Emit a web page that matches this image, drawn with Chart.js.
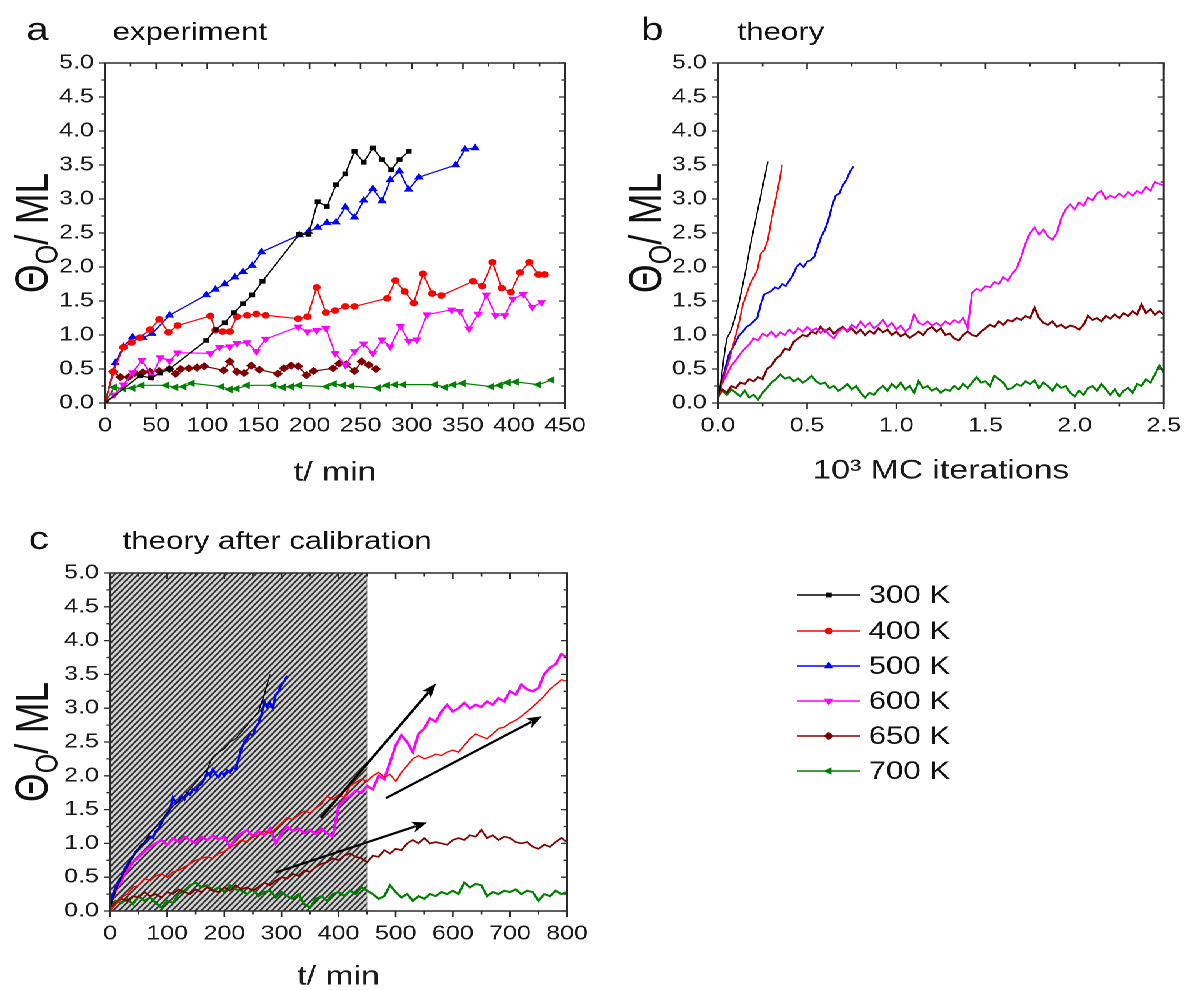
<!DOCTYPE html>
<html>
<head>
<meta charset="utf-8">
<script src="https://cdn.jsdelivr.net/npm/chart.js@4.4.1/dist/chart.umd.min.js"></script>
<style>
  html, body { margin: 0; padding: 0; background: #fff; overflow: hidden; width: 1192px; height: 990px; }
  #wrap { position: absolute; left: 0; top: 0; width: 954px; height: 1010px; transform: scaleX(1.25); transform-origin: 0 0; }
  canvas { position: absolute; }
</style>
</head>
<body>
<div id="wrap">
  <canvas id="ca" style="left:0;top:0;width:480px;height:500px"></canvas>
  <canvas id="cb" style="left:480px;top:0;width:476px;height:500px"></canvas>
  <canvas id="cc" style="left:0;top:490px;width:954px;height:520px"></canvas>
</div>
<script>
// the figure is a bit wider than tall in its lettering, so everything is drawn narrow and stretched
const S = 1.25;

const tempLabels = ['300 K', '400 K', '500 K', '600 K', '650 K', '700 K'];
const colors = ['#000000', '#ff0000', '#0000ff', '#ff00ff', '#800000', '#008000'];

// ---- panel a : experiment, [t/min, coverage ML]
const a300 = [[0,0],[34,0.40],[45,0.37],[54,0.44],[63,0.50],[99,0.92],[108,1.08],[117,1.18],[126,1.33],[135,1.46],[144,1.59],[154,1.79],[190,2.48],[199,2.48],[208,2.96],[217,2.89],[226,3.21],[235,3.37],[244,3.70],[253,3.54],[262,3.75],[271,3.58],[280,3.43],[288,3.58],[297,3.70]];
const a400 = [[0,0],[8,0.46],[18,0.82],[26,0.89],[34,0.96],[44,1.08],[53,1.23],[62,1.04],[71,1.14],[103,1.28],[108,1.07],[115,1.05],[122,1.05],[129,1.27],[139,1.29],[148,1.31],[157,1.29],[189,1.24],[198,1.27],[207,1.70],[216,1.33],[225,1.36],[235,1.42],[244,1.42],[276,1.54],[284,1.80],[293,1.64],[302,1.47],[311,1.90],[320,1.61],[329,1.58],[360,1.79],[369,1.72],[379,2.07],[388,1.69],[397,1.63],[406,1.92],[415,2.07],[424,1.89],[430,1.89]];
const a500 = [[0,0],[10,0.59],[18,0.83],[27,0.97],[37,0.96],[46,1.02],[63,1.29],[99,1.59],[108,1.67],[117,1.75],[127,1.85],[135,1.93],[144,2.02],[153,2.22],[190,2.47],[199,2.52],[208,2.58],[217,2.65],[226,2.66],[235,2.88],[244,2.73],[253,2.98],[262,3.15],[271,2.97],[279,3.28],[288,3.41],[297,3.14],[307,3.32],[343,3.50],[352,3.73],[362,3.75]];
const a600 = [[0,0],[9,0.12],[18,0.27],[27,0.45],[36,0.63],[46,0.39],[54,0.67],[63,0.62],[71,0.74],[103,0.73],[112,0.82],[122,0.83],[129,0.88],[139,0.89],[148,0.76],[157,0.94],[189,1.12],[198,1.05],[207,1.07],[216,1.10],[225,0.73],[235,0.56],[244,0.76],[253,0.87],[262,0.73],[271,0.93],[279,0.83],[289,1.13],[297,0.91],[305,0.93],[315,1.30],[339,1.37],[347,1.35],[356,1.09],[365,1.31],[373,1.59],[382,1.29],[391,1.29],[399,1.53],[409,1.60],[418,1.41],[427,1.48]];
const a650 = [[0,0],[8,0.46],[15,0.38],[23,0.38],[29,0.44],[37,0.45],[44,0.46],[53,0.47],[63,0.50],[69,0.43],[74,0.50],[82,0.51],[90,0.52],[97,0.54],[116,0.48],[122,0.61],[129,0.46],[136,0.44],[143,0.55],[151,0.49],[169,0.43],[175,0.51],[182,0.55],[189,0.54],[197,0.41],[204,0.47],[223,0.51],[229,0.58],[236,0.57],[244,0.47],[251,0.61],[258,0.56],[265,0.50]];
const a700 = [[0,0],[9,0.23],[18,0.21],[27,0.22],[36,0.26],[60,0.26],[69,0.23],[77,0.24],[85,0.29],[114,0.24],[122,0.20],[129,0.21],[139,0.26],[165,0.26],[174,0.23],[182,0.24],[190,0.26],[217,0.24],[224,0.28],[233,0.26],[241,0.25],[267,0.22],[276,0.26],[284,0.27],[292,0.27],[323,0.27],[333,0.23],[341,0.27],[350,0.29],[378,0.24],[386,0.26],[394,0.30],[402,0.31],[424,0.27],[437,0.34]];

// ---- panel b : theory, x in 10^3 MC iterations
const b300 = [[0,0.05],[0.01,0.2],[0.02,0.4],[0.03,0.6],[0.04,0.8],[0.05,0.95],[0.06,1.0],[0.07,1.05],[0.08,1.12],[0.1,1.3],[0.12,1.5],[0.14,1.75],[0.16,2.0],[0.18,2.3],[0.2,2.55],[0.22,2.8],[0.24,3.05],[0.26,3.3],[0.28,3.55]];
const b400 = [[0,0.05],[0.02,0.25],[0.04,0.45],[0.06,0.6],[0.08,0.8],[0.1,1.0],[0.12,1.2],[0.14,1.45],[0.16,1.6],[0.18,1.75],[0.2,1.85],[0.22,1.95],[0.24,2.2],[0.26,2.25],[0.28,2.4],[0.3,2.7],[0.32,2.95],[0.34,3.2],[0.36,3.5]];
const b500 = [[0,0.05],[0.02,0.3],[0.04,0.5],[0.06,0.7],[0.08,0.8],[0.1,0.9],[0.12,1.0],[0.14,1.05],[0.16,1.12],[0.18,1.15],[0.2,1.2],[0.22,1.25],[0.24,1.45],[0.26,1.6],[0.28,1.62],[0.3,1.65],[0.32,1.7],[0.34,1.68],[0.36,1.75],[0.38,1.72],[0.4,1.8],[0.42,1.88],[0.44,2.0],[0.46,2.05],[0.48,2.0],[0.5,2.08],[0.52,2.1],[0.54,2.15],[0.56,2.3],[0.58,2.45],[0.6,2.55],[0.62,2.7],[0.64,2.9],[0.66,3.05],[0.68,3.08],[0.7,3.2],[0.72,3.28],[0.74,3.4],[0.76,3.48]];
const bX = [0,0.025,0.05,0.075,0.1,0.125,0.15,0.175,0.2,0.225,0.25,0.275,0.3,0.325,0.35,0.375,0.4,0.425,0.45,0.475,0.5,0.525,0.55,0.575,0.6,0.625,0.65,0.675,0.7,0.725,0.75,0.775,0.8,0.825,0.85,0.875,0.9,0.925,0.95,0.975,1,1.025,1.05,1.075,1.1,1.125,1.15,1.175,1.2,1.225,1.25,1.275,1.3,1.325,1.35,1.375,1.4,1.425,1.45,1.475,1.5,1.525,1.55,1.575,1.6,1.625,1.65,1.675,1.7,1.725,1.75,1.775,1.8,1.825,1.85,1.875,1.9,1.925,1.95,1.975,2,2.025,2.05,2.075,2.1,2.125,2.15,2.175,2.2,2.225,2.25,2.275,2.3,2.325,2.35,2.375,2.4,2.425,2.45,2.475,2.5];
const b600 = [0.15,0.30,0.42,0.55,0.63,0.72,0.80,0.86,0.95,0.92,
  1.02,0.98,1.05,0.97,1.04,1.00,1.08,1.02,1.10,1.05,
  1.12,1.06,1.10,1.03,1.08,1.00,0.95,1.05,1.10,1.06,
  1.15,1.10,1.20,1.12,1.18,1.10,1.15,1.22,1.12,1.18,
  1.08,1.14,1.05,1.10,1.30,1.18,1.15,1.20,1.14,1.18,
  1.13,1.20,1.16,1.22,1.18,1.25,1.10,1.62,1.68,1.65,
  1.72,1.70,1.78,1.75,1.85,1.80,1.90,1.98,2.15,2.35,
  2.50,2.58,2.48,2.55,2.45,2.40,2.50,2.72,2.85,2.92,
  2.85,2.95,2.90,3.02,2.98,3.08,3.12,3.00,3.05,3.02,
  3.08,3.03,3.10,3.05,3.12,3.08,3.18,3.12,3.25,3.22,
  3.20];
const b650 = [0.15,0.20,0.15,0.25,0.22,0.30,0.28,0.35,0.32,0.38,
  0.35,0.50,0.55,0.65,0.70,0.80,0.78,0.90,0.95,1.00,
  0.98,1.05,1.02,1.12,1.05,1.10,1.02,1.08,1.12,1.05,
  1.10,1.02,1.08,1.00,1.06,1.02,1.10,1.04,1.08,1.00,
  1.05,0.98,1.02,0.96,1.00,1.05,1.00,1.08,1.12,1.05,
  1.10,1.00,1.02,0.95,0.92,1.00,1.05,1.00,0.98,1.05,
  1.10,1.15,1.12,1.20,1.15,1.22,1.20,1.25,1.22,1.28,
  1.25,1.40,1.25,1.18,1.15,1.20,1.12,1.15,1.10,1.14,
  1.12,1.08,1.15,1.28,1.22,1.25,1.20,1.28,1.24,1.30,
  1.25,1.32,1.28,1.35,1.30,1.45,1.32,1.38,1.30,1.35,
  1.30];
const b700 = [0.10,0.18,0.12,0.20,0.15,0.10,0.18,0.08,0.12,0.05,
  0.15,0.22,0.30,0.35,0.42,0.36,0.38,0.32,0.36,0.30,
  0.34,0.40,0.32,0.28,0.30,0.22,0.25,0.18,0.22,0.28,
  0.20,0.25,0.15,0.08,0.15,0.12,0.20,0.25,0.18,0.28,
  0.22,0.30,0.20,0.25,0.15,0.32,0.22,0.25,0.18,0.22,
  0.15,0.20,0.18,0.25,0.20,0.28,0.22,0.30,0.38,0.30,
  0.32,0.25,0.40,0.35,0.30,0.20,0.22,0.28,0.25,0.32,
  0.28,0.33,0.22,0.30,0.25,0.18,0.28,0.22,0.25,0.15,
  0.10,0.18,0.12,0.22,0.25,0.18,0.28,0.20,0.12,0.20,
  0.10,0.18,0.22,0.15,0.28,0.25,0.35,0.30,0.42,0.55,
  0.45];

// ---- panel c : theory after calibration, t/min
const c300 = [[0,0.05],[10,0.30],[20,0.50],[30,0.65],[40,0.80],[50,0.92],[60,1.02],[70,1.15],[80,1.25],[90,1.35],[100,1.45],[110,1.55],[120,1.62],[130,1.70],[140,1.80],[150,1.90],[160,2.00],[170,2.10],[180,2.28],[190,2.35],[200,2.40],[210,2.50],[220,2.55],[230,2.65],[240,2.75],[250,2.85],[260,2.95],[270,3.20],[280,3.50]];
const c500 = [[0,0.05],[5,0.25],[10,0.35],[15,0.45],[20,0.50],[25,0.62],[30,0.68],[35,0.75],[40,0.80],[45,0.88],[50,0.92],[55,0.98],[60,1.00],[65,1.05],[70,1.10],[75,1.08],[80,1.18],[85,1.22],[90,1.30],[95,1.38],[100,1.45],[105,1.50],[110,1.68],[115,1.60],[120,1.62],[125,1.70],[130,1.65],[135,1.75],[140,1.72],[145,1.80],[150,1.78],[155,1.85],[160,1.88],[165,1.95],[170,2.05],[175,2.00],[180,2.10],[185,2.02],[190,1.98],[195,2.05],[200,2.00],[205,2.08],[210,2.05],[215,2.12],[220,2.10],[225,2.25],[230,2.40],[235,2.50],[240,2.55],[245,2.62],[250,2.60],[255,2.72],[260,2.78],[265,2.90],[270,3.10],[275,3.02],[280,3.08],[285,3.00],[290,3.20],[295,3.25],[300,3.35],[305,3.40],[310,3.48]];
const cX = [0,10,20,30,40,50,60,70,80,90,100,110,120,130,140,150,160,170,180,190,200,210,220,230,240,250,260,270,280,290,300,310,320,330,340,350,360,370,380,390,400,410,420,430,440,450,460,470,480,490,500,510,520,530,540,550,560,570,580,590,600,610,620,630,640,650,660,670,680,690,700,710,720,730,740,750,760,770,780,790,800];
const c400 = [0.00,0.10,0.20,0.25,0.35,0.38,0.48,0.45,0.52,0.55,
  0.50,0.58,0.60,0.65,0.70,0.75,0.78,0.80,0.78,0.85,
  0.88,0.95,0.98,1.05,1.02,1.10,1.12,1.18,1.15,1.22,
  1.30,1.38,1.35,1.42,1.48,1.45,1.52,1.58,1.70,1.65,
  1.72,1.68,1.85,1.90,1.95,1.92,2.00,2.05,1.98,2.02,
  1.92,2.05,2.15,2.25,2.30,2.25,2.28,2.32,2.30,2.35,
  2.38,2.35,2.45,2.55,2.62,2.58,2.55,2.62,2.70,2.72,
  2.78,2.82,2.88,2.95,3.02,3.10,3.18,3.28,3.35,3.42,
  3.40];
const c600 = [0.10,0.30,0.45,0.60,0.72,0.80,0.88,0.95,1.00,1.05,
  0.98,1.08,1.02,1.10,1.05,1.00,1.10,1.05,1.12,1.06,
  1.10,0.95,1.08,1.15,1.20,1.10,1.18,1.12,1.22,1.00,
  1.15,1.25,1.18,1.22,1.15,1.20,1.14,1.22,1.15,1.10,
  1.55,1.65,1.70,1.78,1.75,1.85,1.80,2.00,1.95,2.20,
  2.45,2.60,2.50,2.35,2.62,2.70,2.85,2.80,2.95,3.05,
  2.95,3.00,3.08,3.00,3.05,3.02,3.10,3.05,3.15,3.10,
  3.25,3.20,3.35,3.28,3.25,3.30,3.50,3.60,3.65,3.80,
  3.75];
const c650 = [0.05,0.12,0.18,0.15,0.22,0.20,0.28,0.22,0.25,0.20,
  0.28,0.25,0.32,0.28,0.25,0.32,0.28,0.35,0.30,0.28,
  0.35,0.30,0.38,0.32,0.35,0.30,0.36,0.42,0.38,0.45,
  0.50,0.48,0.55,0.52,0.60,0.58,0.65,0.70,0.72,0.78,
  0.75,0.82,0.85,0.80,0.78,0.72,0.82,0.80,0.90,0.85,
  0.92,0.90,1.00,1.05,1.00,1.08,1.00,1.02,1.00,0.98,
  1.05,1.08,1.05,1.12,1.10,1.20,1.08,1.12,1.05,1.10,
  1.08,1.02,1.00,1.02,0.95,0.92,0.98,0.95,1.02,1.08,
  1.02];
const c700 = [0.10,0.15,0.12,0.18,0.10,0.22,0.15,0.20,0.12,0.05,
  0.15,0.12,0.25,0.30,0.38,0.42,0.35,0.38,0.30,0.35,
  0.28,0.38,0.32,0.30,0.25,0.32,0.22,0.28,0.30,0.20,
  0.28,0.22,0.18,0.25,0.10,0.05,0.18,0.22,0.15,0.25,
  0.28,0.22,0.30,0.25,0.35,0.30,0.25,0.18,0.22,0.38,
  0.28,0.20,0.25,0.15,0.22,0.18,0.25,0.22,0.28,0.25,
  0.30,0.25,0.42,0.35,0.40,0.38,0.22,0.28,0.25,0.30,
  0.28,0.32,0.25,0.30,0.28,0.15,0.25,0.22,0.30,0.25,
  0.28];
const cHatch = [0, 450];           // calibration window, min
const cArrows = [[369,1.38,571,3.37],[483,1.67,756,2.88],[290,0.57,555,1.31]];

const markers = [
  {style: 'rect', r: 2.6, rot: 0},
  {style: 'circle', r: 2.8, rot: 0},
  {style: 'triangle', r: 3.4, rot: 0},
  {style: 'triangle', r: 3.4, rot: 180},
  {style: 'rectRot', r: 3.4, rot: 0},
  {style: 'triangle', r: 3.4, rot: 270},
];

const FONT = '"Liberation Sans", Arial, Helvetica, sans-serif';
Chart.defaults.font.family = FONT;
Chart.defaults.color = '#1a1a1a';

const pairs = p => p.map(([x, y]) => ({x, y}));
const zip = (xs, ys) => ys.map((y, i) => ({x: xs[i], y}));

function ds(i, data, width, withPts) {
  const m = markers[i];
  return {
    label: tempLabels[i], data,
    borderColor: colors[i], backgroundColor: colors[i], borderWidth: width,
    pointRadius: withPts ? m.r : 0, pointHoverRadius: 0, pointStyle: m.style,
    pointRotation: m.rot, pointBorderWidth: 1, tension: 0, fill: false
  };
}

// box + Origin style ticks (out on left/bottom, in on top/right)
const frame = {
  id: 'frame',
  afterDraw(chart, args, o) {
    const {ctx, chartArea: ca} = chart;
    const xs = chart.scales.x, ys = chart.scales.y;
    ctx.save();
    ctx.strokeStyle = '#2a2a2a';
    ctx.lineWidth = 1.3;
    ctx.beginPath();
    let n = Math.round((xs.max - xs.min) / o.xMinor);
    let every = Math.round(o.xMajor / o.xMinor);
    for (let i = 0; i <= n; i++) {
      const px = xs.getPixelForValue(xs.min + i * o.xMinor);
      const len = i % every === 0 ? 6 : 3.5;
      ctx.moveTo(px, ca.bottom); ctx.lineTo(px, ca.bottom + len);
      ctx.moveTo(px, ca.top); ctx.lineTo(px, ca.top + len);
    }
    n = Math.round((ys.max - ys.min) / o.yMinor);
    every = Math.round(o.yMajor / o.yMinor);
    for (let i = 0; i <= n; i++) {
      const py = ys.getPixelForValue(ys.min + i * o.yMinor);
      const len = (i % every === 0 ? 6 : 3.5) / S;
      ctx.moveTo(ca.left, py); ctx.lineTo(ca.left - len, py);
      ctx.moveTo(ca.right, py); ctx.lineTo(ca.right - len, py);
    }
    ctx.stroke();
    ctx.lineWidth = 1.5;
    ctx.strokeRect(ca.left, ca.top, ca.width, ca.height);
    ctx.restore();
  }
};

// panel letter, subtitle and the Theta_O / ML axis title
const texts = {
  id: 'texts',
  afterDraw(chart, args, o) {
    const {ctx, chartArea: ca} = chart;
    ctx.save();
    ctx.fillStyle = '#111';
    ctx.textBaseline = 'alphabetic';
    ctx.font = '32px ' + FONT;
    ctx.fillText(o.letter, o.letterX, o.baseY);
    ctx.font = '25px ' + FONT;
    ctx.fillText(o.sub, o.subX, o.baseY);

    ctx.translate(o.yTitleX, (ca.top + ca.bottom) / 2);
    ctx.rotate(-Math.PI / 2);
    const big = '37px ' + FONT, small = '25px ' + FONT;
    ctx.font = big;
    const w1 = ctx.measureText('\u0398').width, w3 = ctx.measureText('/ ML').width;
    ctx.font = small;
    const w2 = ctx.measureText('O').width;
    let x = -(w1 + w2 + w3) / 2;
    const base = 12;
    ctx.font = big; ctx.fillText('\u0398', x, base); x += w1;
    ctx.font = small; ctx.fillText('O', x, base + 8); x += w2;
    ctx.font = big; ctx.fillText('/ ML', x, base);
    ctx.restore();
  }
};

const hatch = {
  id: 'hatch',
  beforeDatasetsDraw(chart, args, o) {
    const {ctx, chartArea: ca} = chart;
    const xs = chart.scales.x;
    const x0 = xs.getPixelForValue(o.range[0]), x1 = xs.getPixelForValue(o.range[1]);
    const h = ca.bottom - ca.top;
    ctx.save();
    ctx.beginPath();
    ctx.rect(x0, ca.top, x1 - x0, h);
    ctx.clip();
    ctx.fillStyle = '#d4d4d4';
    ctx.fillRect(x0, ca.top, x1 - x0, h);
    ctx.strokeStyle = '#333';
    ctx.lineWidth = 1.5;
    ctx.beginPath();
    const run = h / S;
    for (let x = x0 - run; x < x1 + 5; x += 4.7) {
      ctx.moveTo(x, ca.bottom);
      ctx.lineTo(x + run, ca.top);
    }
    ctx.stroke();
    ctx.strokeStyle = '#888';
    ctx.lineWidth = 0.8;
    ctx.beginPath();
    ctx.moveTo(x1, ca.top); ctx.lineTo(x1, ca.bottom);
    ctx.stroke();
    ctx.restore();
  }
};

const arrows = {
  id: 'arrows',
  afterDatasetsDraw(chart, args, o) {
    const {ctx} = chart;
    const xs = chart.scales.x, ys = chart.scales.y;
    ctx.save();
    ctx.strokeStyle = '#000';
    ctx.fillStyle = '#000';
    ctx.lineWidth = 2.2;
    o.list.forEach(([a, b, c, d]) => {
      const px0 = xs.getPixelForValue(a), py0 = ys.getPixelForValue(b);
      const px1 = xs.getPixelForValue(c), py1 = ys.getPixelForValue(d);
      // head shape worked out in page space, then squeezed back
      const ang = Math.atan2(py1 - py0, (px1 - px0) * S);
      const L = 15, W = 5.5;
      const bx = -Math.cos(ang) * L, by = -Math.sin(ang) * L;
      const nx = -Math.sin(ang) * W, ny = Math.cos(ang) * W;
      ctx.beginPath();
      ctx.moveTo(px0, py0);
      ctx.lineTo(px1 + bx * 0.8 / S, py1 + by * 0.8);
      ctx.stroke();
      ctx.beginPath();
      ctx.moveTo(px1, py1);
      ctx.lineTo(px1 + (bx + nx) / S, py1 + by + ny);
      ctx.lineTo(px1 + bx * 0.75 / S, py1 + by * 0.75);
      ctx.lineTo(px1 + (bx - nx) / S, py1 + by - ny);
      ctx.closePath();
      ctx.fill();
    });
    ctx.restore();
  }
};

const legendBox = {
  id: 'legendBox',
  afterDraw(chart, args, o) {
    const {ctx} = chart;
    ctx.save();
    tempLabels.forEach((lab, i) => {
      const y = o.rows[i];
      ctx.strokeStyle = colors[i];
      ctx.fillStyle = colors[i];
      ctx.lineWidth = 1.6;
      ctx.beginPath();
      ctx.moveTo(o.x0, y); ctx.lineTo(o.x1, y);
      ctx.stroke();
      const m = markers[i];
      ctx.lineWidth = 1;
      Chart.helpers.drawPoint(ctx, {pointStyle: m.style, rotation: m.rot, radius: m.r, borderWidth: 1}, (o.x0 + o.x1) / 2, y);
      ctx.fillStyle = '#111';
      ctx.font = '25px ' + FONT;
      ctx.textBaseline = 'middle';
      ctx.fillText(lab, o.tx, y + 1);
    });
    ctx.restore();
  }
};

function makeChart(id, w, h, datasets, cfg, extraPlugins, extraOpts) {
  const cv = document.getElementById(id);
  cv.width = w; cv.height = h;
  return new Chart(cv, {
    type: 'line',
    data: {datasets},
    plugins: [frame, texts].concat(extraPlugins || []),
    options: {
      responsive: false,
      animation: false,
      devicePixelRatio: 2,
      layout: {padding: {left: 0, top: cfg.top, right: cfg.right, bottom: 0}},
      plugins: Object.assign({
        legend: {display: false},
        tooltip: {enabled: false},
        frame: {xMinor: cfg.xStep / 2, xMajor: cfg.xStep, yMinor: 0.25, yMajor: 0.5},
        texts: cfg.texts
      }, extraOpts || {}),
      scales: {
        x: {
          type: 'linear', min: cfg.xMin, max: cfg.xMax,
          grid: {display: false, drawTicks: false}, border: {display: false},
          ticks: {stepSize: cfg.xStep, padding: 11, maxRotation: 0, autoSkip: false,
                  font: {size: 20}, color: '#1a1a1a', callback: cfg.xFmt},
          title: {display: true, text: cfg.xTitle, font: {size: 27}, color: '#1a1a1a',
                  padding: {top: 0, bottom: cfg.xTitlePad}},
          afterFit: s => { s.height = h - cfg.bottom; }
        },
        y: {
          type: 'linear', min: 0, max: 5,
          grid: {display: false, drawTicks: false}, border: {display: false},
          ticks: {stepSize: 0.5, padding: 9, font: {size: 20}, color: '#1a1a1a',
                  callback: v => v.toFixed(1)},
          afterFit: s => { s.width = cfg.left; }
        }
      }
    }
  });
}

const intFmt = v => String(Math.round(v));
const oneFmt = v => v.toFixed(1);

makeChart('ca', 480, 500, [
  ds(0, pairs(a300), 1.2, true),
  ds(1, pairs(a400), 1.2, true),
  ds(2, pairs(a500), 1.2, true),
  ds(3, pairs(a600), 1.2, true),
  ds(4, pairs(a650), 1.2, true),
  ds(5, pairs(a700), 1.2, true)
], {
  left: 84, right: 28, top: 63, bottom: 403,
  xMin: 0, xMax: 450, xStep: 50, xFmt: intFmt, xTitle: 't/ min', xTitlePad: 11,
  texts: {letter: 'a', letterX: 21, sub: 'experiment', subX: 90, baseY: 40, yTitleX: 26}
});

makeChart('cb', 476, 500, [
  ds(0, pairs(b300), 1.1, false),
  ds(1, pairs(b400), 1.3, false),
  ds(2, pairs(b500), 1.6, false),
  ds(3, zip(bX, b600), 1.6, false),
  ds(4, zip(bX, b650), 1.8, false),
  ds(5, zip(bX, b700), 1.8, false)
], {
  left: 94.4, right: 15.2, top: 63, bottom: 403,
  xMin: 0, xMax: 2.5, xStep: 0.5, xFmt: oneFmt, xTitle: '10\u00b3 MC iterations', xTitlePad: 13,
  texts: {letter: 'b', letterX: 33, sub: 'theory', subX: 110, baseY: 40, yTitleX: 37}
});

makeChart('cc', 954, 520, [
  ds(0, pairs(c300), 1.0, false),
  ds(1, zip(cX, c400), 1.3, false),
  ds(2, pairs(c500), 2.0, false),
  ds(3, zip(cX, c600), 2.2, false),
  ds(4, zip(cX, c650), 1.6, false),
  ds(5, zip(cX, c700), 2.0, false)
], {
  left: 88, right: 954 - 453.6, top: 83, bottom: 421,
  xMin: 0, xMax: 800, xStep: 100, xFmt: intFmt, xTitle: 't/ min', xTitlePad: 17,
  texts: {letter: 'c', letterX: 23, sub: 'theory after calibration', subX: 98, baseY: 59, yTitleX: 26}
}, [hatch, arrows, legendBox], {
  hatch: {range: cHatch},
  arrows: {list: cArrows},
  legendBox: {x0: 638, x1: 688, tx: 695, rows: [105, 141, 176, 211, 246, 281]}
});
</script>
</body>
</html>
